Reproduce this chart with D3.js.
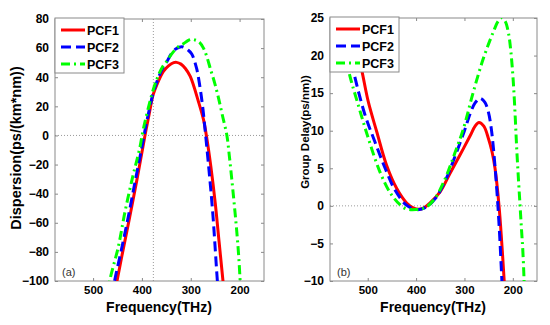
<!DOCTYPE html>
<html><head><meta charset="utf-8">
<script src="https://cdn.jsdelivr.net/npm/d3@7"></script>
<style>body{margin:0;background:#fff;} svg{display:block;font-family:"Liberation Sans",Arial,sans-serif;}</style>
</head><body><svg id="c" width="550" height="325"></svg>
<script>
const freqTicks = [500, 400, 300, 200];
const dispTicks = [-100, -80, -60, -40, -20, 0, 20, 40, 60, 80];
const gdTicks = [-10, -5, 0, 5, 10, 15, 20, 25];
const seriesNames = ["PCF1", "PCF2", "PCF3"];
const seriesColors = ["#ff0000", "#0000ff", "#00ff00"];
const seriesDash = [null, "10,5", "9,4,2,4"];
const markerLine = 376.6;

// Dispersion (ps/(km*nm)) vs frequency (THz)
const dispPCF1 = [[456,-108],[451,-100],[440,-81],[425,-56],[410,-30],[398,-8],[392,3],[385,15],[377,28],[368,36],[356,44],[345,48],[335,50],[329,50.2],[320,49],[311,46],[301,40.5],[284,23],[274,11],[268,0],[259,-21],[250,-46],[242,-73],[234,-100],[231,-110]];
const dispPCF2 = [[461,-110],[456,-100],[443,-80],[428,-56],[413,-30],[400,-8],[394,3],[386,16],[377,29],[368,38],[358,46],[350,50],[340,56],[330,59.5],[318,61],[305,58.5],[298,56],[288,46],[281,33],[275,18],[271,5],[264,-19],[255,-53],[245.5,-100],[243,-110]];
const dispPCF3 = [[470,-110],[466,-100],[448,-76],[435,-53],[420,-30],[404,-8],[398,3],[389,16],[379,29],[369,39],[358,47],[349,51],[339,56],[327,60.5],[315,63],[305,65.3],[298,66],[291,65.6],[282,64],[274,60],[267,54],[260,46],[251,36],[243,25.5],[235,13.5],[226,0],[221,-14],[216,-30],[211,-47],[206,-65],[202,-82],[199,-99],[197,-112]];

// Group delay (ps/nm) vs frequency (THz)
const gdPCF1 = [[540,27],[525,21.5],[512.5,18.1],[499,13.9],[481.5,9.9],[461,5.4],[440,2.3],[419,0.34],[405,-0.3],[395,-0.45],[385,-0.3],[371,0.4],[350,1.9],[330,4.3],[309,6.8],[288.5,9.3],[278,10.6],[270,11.1],[260,10.6],[250.6,9],[243,7.2],[236.8,5],[228.5,0],[223,-4.8],[218.2,-9.6],[216,-12]];
const gdPCF2 = [[550,25],[530,18.1],[505.6,12.1],[485,8.5],[464,5],[443.6,2.1],[420,0.1],[398,-0.5],[380,-0.2],[360,1.0],[340,3.3],[320,6.5],[300,10],[288,12.3],[278,13.7],[268,14.3],[258,13.8],[250.6,12.5],[245,10.5],[240,7.6],[233.3,2.3],[228,-3],[223,-9.4],[221,-12]];
const gdPCF3 = [[560,25],[540,18.1],[519.5,13.4],[498.8,9],[474.6,4.5],[450.4,1.44],[423,-0.33],[400,-0.5],[380,-0.2],[360,1.1],[340,3.6],[320,7],[302,10.3],[281.5,15.2],[261,19.6],[240,23.2],[230,24.6],[223,25],[216,24.6],[209,23],[204,20.5],[199,16.5],[195,11.8],[192,7.7],[188.5,3.7],[185,0],[182,-3.2],[179.6,-5.6],[176.9,-9.6],[176,-12]];

const svg = d3.select("#c");
const frameColor = "#8a8a8a";

function panel(o) {
  const x = d3.scaleLinear().domain([578, 150]).range([o.left, o.right]);
  const y = d3.scaleLinear().domain(o.yDomain).range([o.bottom, o.top]);
  const g = svg.append("g");
  const cid = "clip" + o.id;
  svg.append("clipPath").attr("id", cid).append("rect")
    .attr("x", o.left).attr("y", o.top).attr("width", o.right - o.left).attr("height", o.bottom - o.top);

  // reference dotted lines
  g.append("line").attr("x1", o.left).attr("x2", o.right).attr("y1", y(0)).attr("y2", y(0))
    .attr("stroke", "#9a9a9a").attr("stroke-width", 1).attr("stroke-dasharray", "1,2");
  if (o.vline) {
    g.append("line").attr("x1", x(o.vline)).attr("x2", x(o.vline)).attr("y1", o.top).attr("y2", o.bottom)
      .attr("stroke", "#9a9a9a").attr("stroke-width", 1).attr("stroke-dasharray", "1,2");
  }

  // axes with inward ticks
  const ax = [
    g.append("g").attr("transform", `translate(0,${o.bottom})`).call(d3.axisBottom(x).tickValues(freqTicks).tickSize(-3).tickPadding(5)),
    g.append("g").attr("transform", `translate(0,${o.top})`).call(d3.axisTop(x).tickValues(freqTicks).tickSize(-3).tickFormat("")),
    g.append("g").attr("transform", `translate(${o.left},0)`).call(d3.axisLeft(y).tickValues(o.yTicks).tickSize(-3).tickPadding(6)),
    g.append("g").attr("transform", `translate(${o.right},0)`).call(d3.axisRight(y).tickValues(o.yTicks).tickSize(-3).tickFormat(""))
  ];
  ax.forEach(a => {
    a.select(".domain").remove();
    a.selectAll(".tick line").attr("stroke", frameColor);
    a.selectAll(".tick text").attr("fill", "#000").style("font-size", "12px").style("font-weight", "bold")
      .style("font-family", '"Liberation Sans",Arial,sans-serif');
  });
  ax[0].selectAll(".tick text").style("font-size", "11.5px").attr("dy", "0.71em");

  g.append("rect").attr("x", o.left).attr("y", o.top).attr("width", o.right - o.left).attr("height", o.bottom - o.top)
    .attr("fill", "none").attr("stroke", frameColor).attr("stroke-width", 1);

  // curves
  const line = d3.line().x(d => x(d[0])).y(d => y(d[1])).curve(d3.curveCatmullRom.alpha(0.5));
  const cg = g.append("g").attr("clip-path", `url(#${cid})`);
  o.series.forEach((s, i) => {
    cg.append("path").datum(s).attr("d", line).attr("fill", "none")
      .attr("stroke", seriesColors[i]).attr("stroke-width", 3)
      .attr("stroke-dasharray", seriesDash[i]);
  });

  // panel label
  g.append("text").attr("x", o.left + 7).attr("y", o.bottom - 5).text(o.tag)
    .style("font-size", "11px").attr("fill", "#333");

  // axis titles
  g.append("text").attr("x", (o.left + o.right) / 2 - 0.5).attr("y", 312).attr("text-anchor", "middle")
    .style("font-size", "14px").style("font-weight", "bold").text("Frequency(THz)");
  g.append("text").attr("transform", `translate(${o.ytX},${o.ytY}) rotate(-90)`).attr("text-anchor", "middle")
    .attr("dy", "0.35em").style("font-size", o.ytSize).style("font-weight", "bold").text(o.yTitle);

  // legend
  const lg = g.append("g").attr("transform", `translate(${o.left},${o.top - 1})`);
  lg.append("rect").attr("x", 0).attr("y", 0).attr("width", 69).attr("height", 55)
    .attr("fill", "#fff").attr("stroke", frameColor).attr("stroke-width", 1);
  seriesNames.forEach((n, i) => {
    const ly = 12 + i * 17;
    lg.append("line").attr("x1", 6).attr("x2", 30).attr("y1", ly).attr("y2", ly)
      .attr("stroke", seriesColors[i]).attr("stroke-width", 3).attr("stroke-dasharray", seriesDash[i]);
    lg.append("text").attr("x", 32).attr("y", ly).attr("dy", "0.36em").text(n)
      .style("font-size", "12.5px").style("font-weight", "bold");
  });
}

panel({id: "a", left: 55, right: 264, top: 19, bottom: 281, yDomain: [-100, 80], yTicks: dispTicks,
  series: [dispPCF1, dispPCF2, dispPCF3], vline: markerLine, tag: "(a)",
  yTitle: "Dispersion(ps/(km*nm))", ytX: 16, ytY: 148, ytSize: "14.5px"});
panel({id: "b", left: 330, right: 537, top: 18, bottom: 281, yDomain: [-10, 25], yTicks: gdTicks,
  series: [gdPCF1, gdPCF2, gdPCF3], vline: null, tag: "(b)",
  yTitle: "Group Delay(ps/nm))", ytX: 305, ytY: 132, ytSize: "11.5px"});
</script></body></html>
